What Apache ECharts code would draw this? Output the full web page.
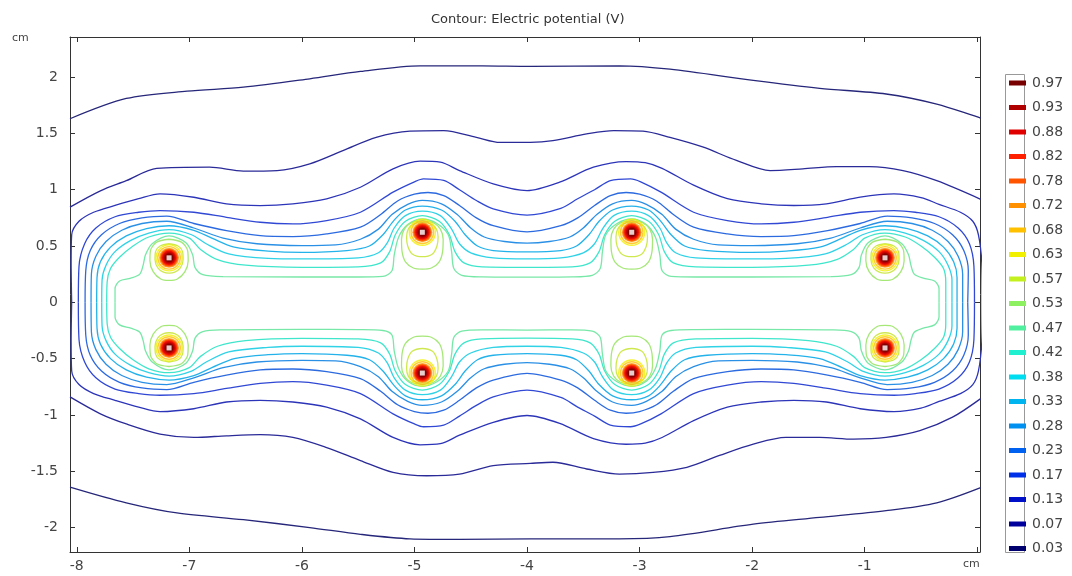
<!DOCTYPE html>
<html><head><meta charset="utf-8">
<script src="https://cdn.jsdelivr.net/npm/echarts@6.0.0/dist/echarts.min.js"></script>
<style>html,body{margin:0;padding:0;background:#fff}#chart{width:1072px;height:576px}</style>
</head><body><div id="chart"></div>
<script>
// ---------------- data (cm) ----------------
const levels = ['0.03','0.07','0.13','0.17','0.23','0.28','0.33','0.38','0.42','0.47','0.53','0.57','0.63','0.68','0.72','0.78','0.82','0.88','0.93','0.97'];
const xTicks = [-8,-7,-6,-5,-4,-3,-2,-1,0];
const yTicks = [-2,-1.5,-1,-0.5,0,0.5,1,1.5,2];
const electrodes = [[-7.18,0.395],[-4.93,0.622],[-3.07,0.622],[-0.82,0.395],[-7.18,-0.405],[-4.93,-0.628],[-3.07,-0.628],[-0.82,-0.405]];

const level003Top = [[-8.06,1.63],[-7.56,1.81],[-7.02,1.875],[-6.52,1.91],[-5.93,1.985],[-5.48,2.05],[-4.95,2.10],[-4.40,2.10],[-3.97,2.095],[-3.18,2.10],[-2.73,2.07],[-1.99,1.97],[-1.40,1.90],[-0.81,1.85],[-0.36,1.76],[0.03,1.635]];
const level003Bottom = [[-8.06,-1.64],[-7.56,-1.78],[-7.11,-1.87],[-6.52,-1.93],[-5.93,-2.0],[-5.48,-2.06],[-5.04,-2.10],[-4.6,-2.105],[-3.97,-2.10],[-3.18,-2.10],[-2.73,-2.08],[-1.99,-1.97],[-1.40,-1.91],[-0.81,-1.85],[-0.36,-1.78],[0.03,-1.645]];

const level007Top = [[-8.06,0.845],[-7.79,0.99],[-7.56,1.08],[-7.29,1.19],[-6.82,1.20],[-6.52,1.165],[-6.22,1.17],[-5.93,1.23],[-5.63,1.35],[-5.34,1.465],[-5.04,1.52],[-4.74,1.525],[-4.45,1.465],[-4.24,1.42],[-3.97,1.42],[-3.77,1.435],[-3.47,1.495],[-3.23,1.525],[-2.97,1.52],[-2.73,1.465],[-2.44,1.38],[-2.14,1.26],[-1.84,1.17],[-1.55,1.185],[-1.25,1.205],[-0.96,1.205],[-0.66,1.17],[-0.36,1.08],[0.03,0.915]];
const level007Bottom = [[-8.06,-0.84],[-7.79,-0.99],[-7.56,-1.08],[-7.26,-1.17],[-6.96,-1.20],[-6.67,-1.185],[-6.37,-1.175],[-6.08,-1.20],[-5.78,-1.29],[-5.48,-1.405],[-5.19,-1.51],[-4.89,-1.54],[-4.60,-1.525],[-4.30,-1.45],[-3.97,-1.43],[-3.77,-1.42],[-3.47,-1.48],[-3.18,-1.525],[-2.88,-1.51],[-2.58,-1.465],[-2.29,-1.36],[-1.99,-1.26],[-1.70,-1.20],[-1.40,-1.20],[-1.10,-1.215],[-0.81,-1.20],[-0.51,-1.14],[-0.22,-1.02],[0.03,-0.855]];

const level013Top = [[-8.045,0],[-8.05,0.35],[-8.045,0.6],[-7.98,0.72],[-7.85,0.80],[-7.66,0.86],[-7.45,0.92],[-7.26,0.963],[-6.96,0.933],[-6.67,0.874],[-6.37,0.859],[-6.08,0.874],[-5.78,0.918],[-5.48,1.022],[-5.19,1.185],[-4.95,1.253],[-4.77,1.244],[-4.60,1.17],[-4.30,1.052],[-4.00,0.992],[-3.71,1.067],[-3.41,1.20],[-3.12,1.25],[-2.95,1.24],[-2.80,1.19],[-2.52,1.04],[-2.22,0.92],[-1.92,0.875],[-1.63,0.86],[-1.34,0.875],[-1.04,0.935],[-0.74,0.963],[-0.50,0.93],[-0.34,0.87],[-0.15,0.80],[-0.04,0.72],[0.01,0.6],[0.04,0.35],[0.045,0]];
const level013Bottom = [[-8.045,0],[-8.05,-0.35],[-8.045,-0.61],[-7.98,-0.73],[-7.85,-0.81],[-7.66,-0.87],[-7.45,-0.93],[-7.26,-0.97],[-6.96,-0.945],[-6.67,-0.885],[-6.37,-0.87],[-6.08,-0.885],[-5.78,-0.93],[-5.48,-1.035],[-5.19,-1.20],[-4.95,-1.265],[-4.77,-1.255],[-4.60,-1.18],[-4.30,-1.065],[-4.00,-1.005],[-3.71,-1.075],[-3.41,-1.21],[-3.12,-1.26],[-2.95,-1.25],[-2.80,-1.20],[-2.52,-1.05],[-2.22,-0.93],[-1.92,-0.885],[-1.63,-0.87],[-1.34,-0.885],[-1.04,-0.945],[-0.74,-0.97],[-0.50,-0.94],[-0.34,-0.88],[-0.15,-0.81],[-0.04,-0.73],[0.01,-0.61],[0.04,-0.35],[0.045,0]];

const level017Top = [[-7.986,0],[-7.98,0.32],[-7.93,0.52],[-7.83,0.66],[-7.66,0.76],[-7.45,0.80],[-7.26,0.815],[-6.96,0.80],[-6.67,0.755],[-6.37,0.711],[-6.08,0.696],[-5.78,0.726],[-5.48,0.80],[-5.19,0.978],[-5.0,1.07],[-4.92,1.096],[-4.74,1.082],[-4.60,1.0],[-4.45,0.904],[-4.30,0.83],[-4.0,0.775],[-3.70,0.835],[-3.55,0.92],[-3.40,1.0],[-3.26,1.08],[-3.08,1.096],[-2.99,1.07],[-2.81,0.978],[-2.52,0.80],[-2.22,0.726],[-1.92,0.696],[-1.63,0.711],[-1.33,0.755],[-1.04,0.80],[-0.74,0.815],[-0.55,0.80],[-0.34,0.76],[-0.17,0.66],[-0.07,0.52],[-0.03,0.32],[-0.025,0]];
const level017Bottom = [[-7.986,0],[-7.98,-0.33],[-7.93,-0.53],[-7.83,-0.67],[-7.66,-0.77],[-7.45,-0.81],[-7.26,-0.825],[-6.96,-0.81],[-6.67,-0.765],[-6.37,-0.72],[-6.08,-0.705],[-5.78,-0.735],[-5.48,-0.81],[-5.19,-0.99],[-5.0,-1.08],[-4.92,-1.105],[-4.74,-1.09],[-4.60,-1.01],[-4.45,-0.915],[-4.30,-0.84],[-4.0,-0.78],[-3.70,-0.845],[-3.55,-0.93],[-3.40,-1.01],[-3.26,-1.09],[-3.08,-1.105],[-2.99,-1.08],[-2.81,-0.99],[-2.52,-0.81],[-2.22,-0.735],[-1.92,-0.705],[-1.63,-0.72],[-1.33,-0.765],[-1.04,-0.81],[-0.74,-0.825],[-0.55,-0.81],[-0.34,-0.77],[-0.17,-0.67],[-0.07,-0.53],[-0.03,-0.33],[-0.025,0]];

const level023Top = [[-7.926,0],[-7.92,0.28],[-7.88,0.46],[-7.78,0.60],[-7.62,0.70],[-7.42,0.75],[-7.20,0.765],[-6.96,0.70],[-6.67,0.637],[-6.37,0.592],[-6.08,0.584],[-5.78,0.607],[-5.48,0.667],[-5.30,0.78],[-5.15,0.90],[-5.00,0.96],[-4.88,0.975],[-4.74,0.948],[-4.60,0.86],[-4.45,0.75],[-4.30,0.68],[-4.00,0.625],[-3.70,0.68],[-3.55,0.75],[-3.40,0.86],[-3.26,0.948],[-3.12,0.975],[-3.00,0.96],[-2.85,0.90],[-2.70,0.78],[-2.52,0.667],[-2.22,0.607],[-1.92,0.584],[-1.63,0.592],[-1.33,0.637],[-1.04,0.70],[-0.80,0.765],[-0.58,0.75],[-0.38,0.70],[-0.22,0.60],[-0.12,0.46],[-0.08,0.28],[-0.085,0]];
const level023Bottom = [[-7.926,0],[-7.92,-0.29],[-7.88,-0.47],[-7.78,-0.61],[-7.62,-0.71],[-7.42,-0.76],[-7.20,-0.775],[-6.96,-0.71],[-6.67,-0.647],[-6.37,-0.60],[-6.08,-0.592],[-5.78,-0.615],[-5.48,-0.677],[-5.30,-0.79],[-5.15,-0.91],[-5.00,-0.97],[-4.88,-0.985],[-4.74,-0.958],[-4.60,-0.87],[-4.45,-0.76],[-4.30,-0.69],[-4.00,-0.63],[-3.70,-0.69],[-3.55,-0.76],[-3.40,-0.87],[-3.26,-0.958],[-3.12,-0.985],[-3.00,-0.97],[-2.85,-0.91],[-2.70,-0.79],[-2.52,-0.677],[-2.22,-0.615],[-1.92,-0.592],[-1.63,-0.60],[-1.33,-0.647],[-1.04,-0.71],[-0.80,-0.775],[-0.58,-0.76],[-0.38,-0.71],[-0.22,-0.61],[-0.12,-0.47],[-0.08,-0.29],[-0.085,0]];

const level028Top = [[-7.873,0],[-7.87,0.25],[-7.83,0.41],[-7.74,0.54],[-7.60,0.64],[-7.42,0.70],[-7.20,0.72],[-6.96,0.66],[-6.70,0.57],[-6.40,0.52],[-6.00,0.504],[-5.70,0.51],[-5.48,0.56],[-5.32,0.65],[-5.20,0.78],[-5.06,0.87],[-4.93,0.905],[-4.76,0.875],[-4.62,0.78],[-4.50,0.66],[-4.38,0.58],[-4.20,0.54],[-4.00,0.525],[-3.80,0.54],[-3.62,0.58],[-3.50,0.66],[-3.38,0.78],[-3.24,0.875],[-3.07,0.905],[-2.94,0.87],[-2.80,0.78],[-2.68,0.65],[-2.52,0.56],[-2.30,0.51],[-2.00,0.504],[-1.60,0.52],[-1.30,0.57],[-1.04,0.66],[-0.80,0.72],[-0.58,0.70],[-0.40,0.64],[-0.26,0.54],[-0.17,0.41],[-0.13,0.25],[-0.13,0]];
const level028Bottom = [[-7.873,0],[-7.87,-0.26],[-7.83,-0.42],[-7.74,-0.55],[-7.60,-0.65],[-7.42,-0.71],[-7.20,-0.73],[-6.96,-0.67],[-6.70,-0.58],[-6.40,-0.53],[-6.00,-0.515],[-5.70,-0.52],[-5.48,-0.57],[-5.32,-0.66],[-5.20,-0.79],[-5.06,-0.88],[-4.93,-0.915],[-4.76,-0.885],[-4.62,-0.79],[-4.50,-0.67],[-4.38,-0.59],[-4.20,-0.55],[-4.00,-0.535],[-3.80,-0.55],[-3.62,-0.59],[-3.50,-0.67],[-3.38,-0.79],[-3.24,-0.885],[-3.07,-0.915],[-2.94,-0.88],[-2.80,-0.79],[-2.68,-0.66],[-2.52,-0.57],[-2.30,-0.52],[-2.00,-0.515],[-1.60,-0.53],[-1.30,-0.58],[-1.04,-0.67],[-0.80,-0.73],[-0.58,-0.71],[-0.40,-0.65],[-0.26,-0.55],[-0.17,-0.42],[-0.13,-0.26],[-0.13,0]];

const level033Top = [[-7.823,0],[-7.82,0.22],[-7.79,0.36],[-7.70,0.49],[-7.56,0.59],[-7.38,0.655],[-7.18,0.68],[-6.96,0.64],[-6.80,0.57],[-6.60,0.49],[-6.30,0.455],[-6.00,0.444],[-5.60,0.46],[-5.40,0.50],[-5.28,0.60],[-5.18,0.73],[-5.08,0.82],[-4.93,0.855],[-4.76,0.82],[-4.64,0.72],[-4.55,0.60],[-4.44,0.50],[-4.30,0.46],[-4.00,0.448],[-3.70,0.46],[-3.56,0.50],[-3.45,0.60],[-3.36,0.72],[-3.24,0.82],[-3.07,0.855],[-2.92,0.82],[-2.82,0.73],[-2.72,0.60],[-2.60,0.50],[-2.40,0.46],[-2.00,0.444],[-1.70,0.455],[-1.40,0.49],[-1.20,0.57],[-1.04,0.64],[-0.82,0.68],[-0.62,0.655],[-0.44,0.59],[-0.30,0.49],[-0.21,0.36],[-0.18,0.22],[-0.18,0]];
const level033Bottom = [[-7.823,0],[-7.82,-0.23],[-7.79,-0.37],[-7.70,-0.50],[-7.56,-0.60],[-7.38,-0.665],[-7.18,-0.69],[-6.96,-0.65],[-6.80,-0.58],[-6.60,-0.50],[-6.30,-0.465],[-6.00,-0.455],[-5.60,-0.47],[-5.40,-0.51],[-5.28,-0.61],[-5.18,-0.74],[-5.08,-0.83],[-4.93,-0.865],[-4.76,-0.83],[-4.64,-0.73],[-4.55,-0.61],[-4.44,-0.51],[-4.30,-0.47],[-4.00,-0.455],[-3.70,-0.47],[-3.56,-0.51],[-3.45,-0.61],[-3.36,-0.73],[-3.24,-0.83],[-3.07,-0.865],[-2.92,-0.83],[-2.82,-0.74],[-2.72,-0.61],[-2.60,-0.51],[-2.40,-0.47],[-2.00,-0.455],[-1.70,-0.465],[-1.40,-0.50],[-1.20,-0.58],[-1.04,-0.65],[-0.82,-0.69],[-0.62,-0.665],[-0.44,-0.60],[-0.30,-0.50],[-0.21,-0.37],[-0.18,-0.23],[-0.18,0]];

const level038Top = [[-7.778,0],[-7.775,0.20],[-7.74,0.33],[-7.66,0.45],[-7.52,0.55],[-7.36,0.615],[-7.18,0.645],[-6.98,0.60],[-6.85,0.52],[-6.65,0.43],[-6.30,0.39],[-6.00,0.385],[-5.50,0.395],[-5.32,0.44],[-5.24,0.53],[-5.18,0.66],[-5.08,0.77],[-4.93,0.81],[-4.77,0.77],[-4.67,0.65],[-4.60,0.52],[-4.50,0.44],[-4.30,0.395],[-4.00,0.385],[-3.70,0.395],[-3.50,0.44],[-3.40,0.52],[-3.33,0.65],[-3.23,0.77],[-3.07,0.81],[-2.92,0.77],[-2.82,0.66],[-2.76,0.53],[-2.68,0.44],[-2.50,0.395],[-2.00,0.385],[-1.70,0.39],[-1.35,0.43],[-1.15,0.52],[-1.02,0.60],[-0.82,0.645],[-0.64,0.615],[-0.48,0.55],[-0.34,0.45],[-0.26,0.33],[-0.225,0.20],[-0.225,0]];
const level038Bottom = [[-7.778,0],[-7.775,-0.21],[-7.74,-0.34],[-7.66,-0.46],[-7.52,-0.56],[-7.36,-0.625],[-7.18,-0.655],[-6.98,-0.61],[-6.85,-0.53],[-6.65,-0.44],[-6.30,-0.40],[-6.00,-0.39],[-5.50,-0.40],[-5.32,-0.45],[-5.24,-0.54],[-5.18,-0.67],[-5.08,-0.78],[-4.93,-0.82],[-4.77,-0.78],[-4.67,-0.66],[-4.60,-0.53],[-4.50,-0.45],[-4.30,-0.40],[-4.00,-0.39],[-3.70,-0.40],[-3.50,-0.45],[-3.40,-0.53],[-3.33,-0.66],[-3.23,-0.78],[-3.07,-0.82],[-2.92,-0.78],[-2.82,-0.67],[-2.76,-0.54],[-2.68,-0.45],[-2.50,-0.40],[-2.00,-0.39],[-1.70,-0.40],[-1.35,-0.44],[-1.15,-0.53],[-1.02,-0.61],[-0.82,-0.655],[-0.64,-0.625],[-0.48,-0.56],[-0.34,-0.46],[-0.26,-0.34],[-0.225,-0.21],[-0.225,0]];

const level042Top = [[-7.734,0],[-7.73,0.18],[-7.70,0.30],[-7.62,0.40],[-7.50,0.50],[-7.36,0.58],[-7.18,0.615],[-7.00,0.57],[-6.90,0.47],[-6.75,0.38],[-6.50,0.33],[-6.00,0.311],[-5.50,0.315],[-5.30,0.35],[-5.22,0.45],[-5.17,0.60],[-5.08,0.72],[-4.93,0.77],[-4.78,0.72],[-4.69,0.60],[-4.64,0.45],[-4.56,0.35],[-4.40,0.315],[-4.00,0.311],[-3.60,0.315],[-3.44,0.35],[-3.36,0.45],[-3.31,0.60],[-3.22,0.72],[-3.07,0.77],[-2.92,0.72],[-2.83,0.60],[-2.78,0.45],[-2.70,0.35],[-2.50,0.315],[-2.00,0.311],[-1.50,0.33],[-1.25,0.38],[-1.10,0.47],[-1.00,0.57],[-0.82,0.615],[-0.64,0.58],[-0.50,0.50],[-0.38,0.40],[-0.30,0.30],[-0.28,0.18],[-0.28,0]];
const level042Bottom = [[-7.734,0],[-7.73,-0.19],[-7.70,-0.31],[-7.62,-0.41],[-7.50,-0.51],[-7.36,-0.59],[-7.18,-0.625],[-7.00,-0.58],[-6.90,-0.48],[-6.75,-0.39],[-6.50,-0.34],[-6.00,-0.32],[-5.50,-0.325],[-5.30,-0.36],[-5.22,-0.46],[-5.17,-0.61],[-5.08,-0.73],[-4.93,-0.78],[-4.78,-0.73],[-4.69,-0.61],[-4.64,-0.46],[-4.56,-0.36],[-4.40,-0.325],[-4.00,-0.318],[-3.60,-0.325],[-3.44,-0.36],[-3.36,-0.46],[-3.31,-0.61],[-3.22,-0.73],[-3.07,-0.78],[-2.92,-0.73],[-2.83,-0.61],[-2.78,-0.46],[-2.70,-0.36],[-2.50,-0.325],[-2.00,-0.32],[-1.50,-0.34],[-1.25,-0.39],[-1.10,-0.48],[-1.00,-0.58],[-0.82,-0.625],[-0.64,-0.59],[-0.50,-0.51],[-0.38,-0.41],[-0.30,-0.31],[-0.28,-0.19],[-0.28,0]];

const level047Top = [[-7.66,0],[-7.66,0.12],[-7.62,0.19],[-7.52,0.215],[-7.44,0.25],[-7.41,0.33],[-7.39,0.42],[-7.33,0.52],[-7.18,0.59],[-7.03,0.53],[-6.97,0.42],[-6.95,0.31],[-6.88,0.245],[-6.70,0.228],[-6.00,0.225],[-5.50,0.225],[-5.28,0.23],[-5.20,0.28],[-5.18,0.42],[-5.14,0.58],[-5.06,0.69],[-4.93,0.74],[-4.80,0.70],[-4.70,0.60],[-4.67,0.45],[-4.65,0.30],[-4.58,0.24],[-4.40,0.226],[-4.00,0.224],[-3.60,0.226],[-3.42,0.24],[-3.35,0.30],[-3.33,0.45],[-3.30,0.60],[-3.20,0.70],[-3.07,0.74],[-2.94,0.69],[-2.86,0.58],[-2.82,0.42],[-2.80,0.28],[-2.72,0.23],[-2.50,0.225],[-2.00,0.225],[-1.30,0.228],[-1.12,0.245],[-1.05,0.31],[-1.03,0.42],[-0.97,0.53],[-0.82,0.59],[-0.67,0.52],[-0.61,0.42],[-0.59,0.33],[-0.56,0.25],[-0.48,0.215],[-0.38,0.19],[-0.34,0.12],[-0.34,0]];
const level047Bottom = [[-7.66,0],[-7.66,-0.13],[-7.62,-0.20],[-7.52,-0.23],[-7.44,-0.265],[-7.41,-0.34],[-7.39,-0.43],[-7.33,-0.53],[-7.18,-0.60],[-7.03,-0.54],[-6.97,-0.43],[-6.95,-0.32],[-6.88,-0.26],[-6.70,-0.245],[-6.00,-0.24],[-5.50,-0.242],[-5.28,-0.25],[-5.20,-0.29],[-5.18,-0.43],[-5.14,-0.59],[-5.06,-0.70],[-4.93,-0.745],[-4.80,-0.705],[-4.70,-0.61],[-4.67,-0.46],[-4.65,-0.31],[-4.58,-0.255],[-4.40,-0.245],[-4.00,-0.246],[-3.60,-0.245],[-3.42,-0.255],[-3.35,-0.31],[-3.33,-0.46],[-3.30,-0.61],[-3.20,-0.705],[-3.07,-0.745],[-2.94,-0.70],[-2.86,-0.59],[-2.82,-0.43],[-2.80,-0.29],[-2.72,-0.25],[-2.50,-0.242],[-2.00,-0.24],[-1.30,-0.245],[-1.12,-0.26],[-1.05,-0.32],[-1.03,-0.43],[-0.97,-0.54],[-0.82,-0.60],[-0.67,-0.53],[-0.61,-0.43],[-0.59,-0.34],[-0.56,-0.265],[-0.48,-0.23],[-0.38,-0.20],[-0.34,-0.13],[-0.34,0]];

// closed loops around each electrode
const loop053EndTL = [[-7.18,0.56],[-7.07,0.535],[-7.015,0.46],[-7.01,0.37],[-7.04,0.27],[-7.11,0.205],[-7.18,0.195],[-7.25,0.205],[-7.32,0.27],[-7.35,0.37],[-7.345,0.46],[-7.29,0.535],[-7.18,0.56]];
const loop053MidTL = [[-4.93,0.725],[-4.83,0.705],[-4.77,0.65],[-4.745,0.56],[-4.75,0.45],[-4.78,0.36],[-4.85,0.305],[-4.93,0.295],[-5.01,0.305],[-5.08,0.36],[-5.11,0.45],[-5.115,0.56],[-5.09,0.65],[-5.03,0.705],[-4.93,0.725]];
const loop053MidTR = [[-3.07,0.725],[-2.97,0.705],[-2.91,0.65],[-2.885,0.56],[-2.89,0.45],[-2.92,0.36],[-2.99,0.305],[-3.07,0.295],[-3.15,0.305],[-3.22,0.36],[-3.25,0.45],[-3.255,0.56],[-3.23,0.65],[-3.17,0.705],[-3.07,0.725]];
const loop053EndTR = [[-0.82,0.56],[-0.71,0.535],[-0.655,0.46],[-0.65,0.37],[-0.68,0.27],[-0.75,0.205],[-0.82,0.195],[-0.89,0.205],[-0.96,0.27],[-0.99,0.37],[-0.985,0.46],[-0.93,0.535],[-0.82,0.56]];
const loop053EndBL = [[-7.18,-0.57],[-7.07,-0.545],[-7.015,-0.47],[-7.01,-0.38],[-7.04,-0.28],[-7.11,-0.215],[-7.18,-0.205],[-7.25,-0.215],[-7.32,-0.28],[-7.35,-0.38],[-7.345,-0.47],[-7.29,-0.545],[-7.18,-0.57]];
const loop053MidBL = [[-4.93,-0.73],[-4.83,-0.71],[-4.77,-0.655],[-4.745,-0.565],[-4.75,-0.455],[-4.78,-0.365],[-4.85,-0.31],[-4.93,-0.30],[-5.01,-0.31],[-5.08,-0.365],[-5.11,-0.455],[-5.115,-0.565],[-5.09,-0.655],[-5.03,-0.71],[-4.93,-0.73]];
const loop053MidBR = [[-3.07,-0.73],[-2.97,-0.71],[-2.91,-0.655],[-2.885,-0.565],[-2.89,-0.455],[-2.92,-0.365],[-2.99,-0.31],[-3.07,-0.30],[-3.15,-0.31],[-3.22,-0.365],[-3.25,-0.455],[-3.255,-0.565],[-3.23,-0.655],[-3.17,-0.71],[-3.07,-0.73]];
const loop053EndBR = [[-0.82,-0.57],[-0.71,-0.545],[-0.655,-0.47],[-0.65,-0.38],[-0.68,-0.28],[-0.75,-0.215],[-0.82,-0.205],[-0.89,-0.215],[-0.96,-0.28],[-0.99,-0.38],[-0.985,-0.47],[-0.93,-0.545],[-0.82,-0.57]];

const loop057EndTL = [[-7.18,0.52],[-7.10,0.50],[-7.06,0.45],[-7.055,0.38],[-7.08,0.305],[-7.13,0.268],[-7.18,0.26],[-7.23,0.268],[-7.28,0.305],[-7.305,0.38],[-7.30,0.45],[-7.26,0.50],[-7.18,0.52]];
const loop057MidTL = [[-4.93,0.712],[-4.85,0.695],[-4.805,0.65],[-4.79,0.58],[-4.80,0.50],[-4.84,0.43],[-4.93,0.405],[-5.02,0.43],[-5.06,0.50],[-5.07,0.58],[-5.055,0.65],[-5.01,0.695],[-4.93,0.712]];
const loop057MidTR = [[-3.07,0.712],[-2.99,0.695],[-2.945,0.65],[-2.93,0.58],[-2.94,0.50],[-2.98,0.43],[-3.07,0.405],[-3.16,0.43],[-3.20,0.50],[-3.21,0.58],[-3.195,0.65],[-3.15,0.695],[-3.07,0.712]];
const loop057EndTR = [[-0.82,0.52],[-0.74,0.50],[-0.70,0.45],[-0.695,0.38],[-0.72,0.305],[-0.77,0.268],[-0.82,0.26],[-0.87,0.268],[-0.92,0.305],[-0.945,0.38],[-0.94,0.45],[-0.90,0.50],[-0.82,0.52]];
const loop057EndBL = [[-7.18,-0.53],[-7.10,-0.51],[-7.06,-0.46],[-7.055,-0.39],[-7.08,-0.315],[-7.13,-0.278],[-7.18,-0.27],[-7.23,-0.278],[-7.28,-0.315],[-7.305,-0.39],[-7.30,-0.46],[-7.26,-0.51],[-7.18,-0.53]];
const loop057MidBL = [[-4.93,-0.718],[-4.85,-0.70],[-4.805,-0.655],[-4.79,-0.585],[-4.80,-0.505],[-4.84,-0.435],[-4.93,-0.41],[-5.02,-0.435],[-5.06,-0.505],[-5.07,-0.585],[-5.055,-0.655],[-5.01,-0.70],[-4.93,-0.718]];
const loop057MidBR = [[-3.07,-0.718],[-2.99,-0.70],[-2.945,-0.655],[-2.93,-0.585],[-2.94,-0.505],[-2.98,-0.435],[-3.07,-0.41],[-3.16,-0.435],[-3.20,-0.505],[-3.21,-0.585],[-3.195,-0.655],[-3.15,-0.70],[-3.07,-0.718]];
const loop057EndBR = [[-0.82,-0.53],[-0.74,-0.51],[-0.70,-0.46],[-0.695,-0.39],[-0.72,-0.315],[-0.77,-0.278],[-0.82,-0.27],[-0.87,-0.278],[-0.92,-0.315],[-0.945,-0.39],[-0.94,-0.46],[-0.90,-0.51],[-0.82,-0.53]];

// ---------------- styles ----------------
const levelColors = {
  '0.03':'#00006e','0.07':'#00009c','0.13':'#0010c8','0.17':'#0030e8','0.23':'#0060f0','0.28':'#0090f0',
  '0.33':'#00b4f0','0.38':'#00dcf0','0.42':'#20f0d0','0.47':'#50f0a0','0.53':'#8cf060','0.57':'#c4f020',
  '0.63':'#f0f000','0.68':'#ffc000','0.72':'#ff9000','0.78':'#ff5500','0.82':'#ff2000','0.88':'#e00000',
  '0.93':'#b00000','0.97':'#780000'
};
// slightly muted tones for the thin contour strokes
const strokeColors = {
  '0.03':'#26267a','0.07':'#2a2a98','0.13':'#2c34b8','0.17':'#3048d4','0.23':'#2c6ae0','0.28':'#2a90e6',
  '0.33':'#24b2ea','0.38':'#30d2e6','0.42':'#40e6cc','0.47':'#78e8a8','0.53':'#a6e878','0.57':'#d0e850'
};
const ringStyle = { // diameter in px, hollow or filled
  '0.63':[26,true],'0.68':[22.5,true],'0.72':[20,false],'0.78':[18,false],
  '0.82':[16,false],'0.88':[14,false],'0.93':[11.5,false],'0.97':[9,false]
};
const FONT = 'DejaVu Sans';

const contourGroups = [
  ['0.03',[level003Top,level003Bottom]],
  ['0.07',[level007Top,level007Bottom]],
  ['0.13',[level013Top,level013Bottom]],
  ['0.17',[level017Top,level017Bottom]],
  ['0.23',[level023Top,level023Bottom]],
  ['0.28',[level028Top,level028Bottom]],
  ['0.33',[level033Top,level033Bottom]],
  ['0.38',[level038Top,level038Bottom]],
  ['0.42',[level042Top,level042Bottom]],
  ['0.47',[level047Top,level047Bottom]],
  ['0.53',[loop053EndTL,loop053MidTL,loop053MidTR,loop053EndTR,loop053EndBL,loop053MidBL,loop053MidBR,loop053EndBR]],
  ['0.57',[loop057EndTL,loop057MidTL,loop057MidTR,loop057EndTR,loop057EndBL,loop057MidBL,loop057MidBR,loop057EndBR]]
];

const series = [];
contourGroups.forEach(([lev, lines]) => {
  lines.forEach(pts => {
    series.push({
      type:'line', name: lev, data: pts, showSymbol:false, symbol:'none',
      smooth: 0.3, clip: true, silent: true, z: 2,
      lineStyle:{ color: strokeColors[lev], width: 1.3 },
      itemStyle:{ color: levelColors[lev] }
    });
  });
});
Object.keys(ringStyle).forEach(lev => {
  const [d, hollow] = ringStyle[lev];
  series.push({
    type:'scatter', name: lev, data: electrodes, symbol:'circle', symbolSize: d, silent:true, z: 3,
    itemStyle: hollow ? { color:'rgba(0,0,0,0)', borderColor: levelColors[lev], borderWidth: 1.4 }
                      : { color: levelColors[lev] }
  });
});
series.push({ type:'scatter', name:'electrode', data: electrodes, symbol:'rect', symbolSize: 5, silent:true, z: 4,
  itemStyle:{ color:'#ffffff' } });

const axisCommon = {
  type:'value', splitLine:{show:false},
  axisLine:{show:true, onZero:false, lineStyle:{color:'#333', width:1}},
};

const chart = echarts.init(document.getElementById('chart'), null, {renderer:'canvas'});
chart.setOption({
  animation:false,
  backgroundColor:'#ffffff',
  title:{ text:'Contour: Electric potential (V)', left: 426, top: 8,
    textStyle:{ fontFamily: FONT, fontSize: 13, fontWeight:'normal', color:'#333' } },
  grid:{ left:70, right:92, top:37, bottom:24, containLabel:false },
  xAxis:[
    Object.assign({}, axisCommon, { min:-8.06, max:0.024, position:'bottom',
      axisTick:{show:true, inside:true, length:5, customValues:xTicks, lineStyle:{color:'#333'}},
      axisLabel:{show:true, customValues:xTicks, margin:7, color:'#444', fontFamily:FONT, fontSize:14,
        formatter: v => (v === 0 ? '{u|cm}' : String(v)),
        rich:{ u:{ fontSize:11, fontFamily:FONT, color:'#444', padding:[0,12,0,0] } } } }),
    Object.assign({}, axisCommon, { min:-8.06, max:0.024, position:'top',
      axisTick:{show:true, inside:true, length:5, customValues:xTicks, lineStyle:{color:'#333'}},
      axisLabel:{show:false} })
  ],
  yAxis:[
    Object.assign({}, axisCommon, { min:-2.217, max:2.356, position:'left',
      axisTick:{show:true, inside:true, length:5, customValues:yTicks, lineStyle:{color:'#333'}},
      axisLabel:{show:true, customValues:yTicks, margin:12, color:'#444', fontFamily:FONT, fontSize:14,
        formatter: v => String(v)} }),
    Object.assign({}, axisCommon, { min:-2.217, max:2.356, position:'right',
      axisTick:{show:true, inside:true, length:5, customValues:yTicks, lineStyle:{color:'#333'}},
      axisLabel:{show:false} })
  ],
  legend:{
    orient:'vertical', left:1004, top:70, icon:'rect', itemWidth:17, itemHeight:5, itemGap:8.5,
    selectedMode:false,
    data: levels.slice().reverse().map(l => ({ name:l, itemStyle:{ color: levelColors[l], opacity:1, borderWidth:0 } })),
    textStyle:{ fontFamily:FONT, fontSize:14, color:'#444', lineHeight:16, padding:[0,0,0,1] }
  },
  graphic:[
    { type:'rect', left:1003, top:72, shape:{ width:19, height:478 }, z:-1,
      style:{ fill:'none', stroke:'#999', lineWidth:1 } },
    { type:'text', left:12, top:33, style:{ text:'cm', fontFamily:FONT, fontSize:11, fill:'#444' } }
  ],
  series
});
</script></body></html>
